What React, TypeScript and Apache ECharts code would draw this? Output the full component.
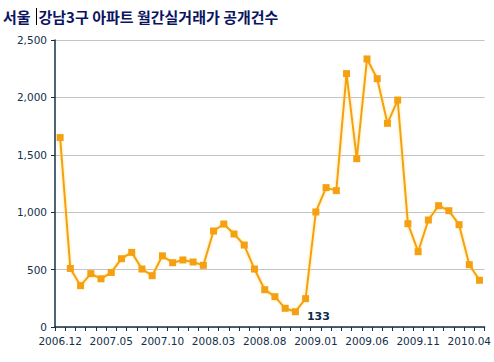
import React, { useEffect, useRef } from "react";
import * as echarts from "echarts";

const titlePart1 = "서울";
const titlePart2 = "강남3구 아파트 월간실거래가 공개건수";

const months: string[] = [
  "2006.12",
  "2007.01", "2007.02", "2007.03", "2007.04", "2007.05", "2007.06",
  "2007.07", "2007.08", "2007.09", "2007.10", "2007.11", "2007.12",
  "2008.01", "2008.02", "2008.03", "2008.04", "2008.05", "2008.06",
  "2008.07", "2008.08", "2008.09", "2008.10", "2008.11", "2008.12",
  "2009.01", "2009.02", "2009.03", "2009.04", "2009.05", "2009.06",
  "2009.07", "2009.08", "2009.09", "2009.10", "2009.11", "2009.12",
  "2010.01", "2010.02", "2010.03", "2010.04", "2010.05",
];

const counts: number[] = [
  1650, 510, 360, 465, 420, 475, 595, 650, 505, 447, 620, 560, 584, 566, 537,
  836, 897, 810, 714, 505, 325, 264, 163, 133, 247, 1002, 1214, 1188, 2207,
  1466, 2335, 2163, 1774, 1977, 900, 656, 932, 1057, 1013, 891, 543, 407,
];

const yTicks = { min: 0, max: 2500, interval: 500 };
const labeledIndex = 23;

export default function App() {
  const ref = useRef<HTMLDivElement>(null);
  useEffect(() => {
    if (!ref.current) return;
    const chart = echarts.init(ref.current, null, { renderer: "svg" });
    const navy = "#13304a";
    const orange = "#f5a011";
    const titleStyle = {
      fontFamily: "Noto Sans CJK KR",
      fontSize: 15,
      fontWeight: "bold",
      fill: "#0b1460",
      textVerticalAlign: "middle",
    };
    chart.setOption({
      animation: false,
      backgroundColor: "#ffffff",
      graphic: [
        {
          type: "text",
          x: 3,
          y: 16,
          style: { ...titleStyle, text: titlePart1 },
        },
        {
          type: "line",
          shape: { x1: 36.5, y1: 8, x2: 36.5, y2: 25 },
          style: { stroke: "#000", lineWidth: 1 },
        },
        {
          type: "text",
          x: 38.5,
          y: 16,
          style: { ...titleStyle, text: titlePart2 },
        },
      ],
      grid: { left: 55, right: 9, top: 40, bottom: 35, containLabel: false },
      xAxis: {
        type: "category",
        data: months,
        boundaryGap: true,
        axisLine: { show: true, lineStyle: { color: navy, width: 1.5 } },
        axisTick: { show: true, interval: 0, length: 4, lineStyle: { color: navy } },
        axisLabel: {
          interval: 4,
          color: navy,
          fontFamily: "DejaVu Sans",
          fontSize: 10.5,
          margin: 8,
        },
        splitLine: { show: false },
      },
      yAxis: {
        type: "value",
        min: yTicks.min,
        max: yTicks.max,
        interval: yTicks.interval,
        axisLine: { show: true, lineStyle: { color: navy, width: 1.5 } },
        axisTick: { show: true, length: 4, lineStyle: { color: navy } },
        axisLabel: {
          color: navy,
          fontFamily: "DejaVu Sans",
          fontSize: 10.5,
          margin: 8,
          formatter: (v: number) => v.toLocaleString("en-US"),
        },
        splitLine: { show: true, lineStyle: { color: "#c4c4c4", width: 1 } },
      },
      series: [
        {
          type: "line",
          showSymbol: true,
          showAllSymbol: true,
          data: counts.map((v, i) =>
            i === labeledIndex
              ? {
                  value: v,
                  label: {
                    show: true,
                    position: "inside",
                    offset: [23, 5],
                    formatter: "{c}",
                    color: "#0d2a4a",
                    fontWeight: "bold",
                    fontFamily: "DejaVu Sans",
                    fontSize: 11,
                  },
                }
              : v
          ),
          symbol: "rect",
          symbolSize: 7,
          lineStyle: {
            color: orange,
            width: 2,
            shadowColor: "rgba(255, 225, 110, 0.9)",
            shadowBlur: 3,
          },
          itemStyle: { color: orange },
        },
      ],
    });
    return () => chart.dispose();
  }, []);
  return (
    <div
      ref={ref}
      style={{ position: "absolute", left: 0, top: 0, width: 494, height: 362 }}
    />
  );
}
